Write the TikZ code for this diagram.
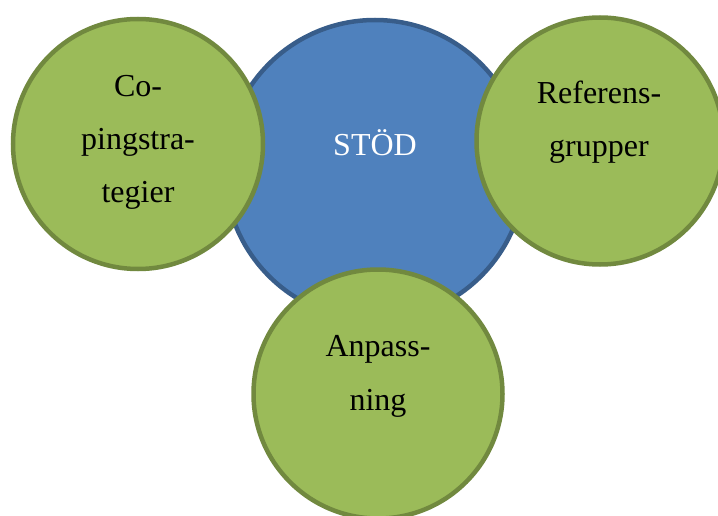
\documentclass[tikz,border=0pt]{standalone}
\usepackage{fontspec}
\setmainfont{Liberation Serif}
\usepackage{tikz}
\usetikzlibrary{positioning}
\definecolor{bleu}{HTML}{4F81BD}
\definecolor{bleubord}{HTML}{385D8A}
\definecolor{vert}{HTML}{9BBB59}
\definecolor{vertbord}{HTML}{71893F}

\begin{document}
\begin{tikzpicture}[x=1pt,y=-1pt,
  rond/.style={circle,line width=4.5pt,inner sep=0pt},
  texte/.style={align=center,font=\fontsize{32}{53.5}\selectfont,anchor=base}]
\useasboundingbox (0,0) rectangle (718,516);
\node [rond,fill=bleu,draw=bleubord,minimum size=300pt] (stod) at (375,170) {};
\node [rond,fill=vert,draw=vertbord,minimum size=250pt] (coping) at (138,144) {};
\node [rond,fill=vert,draw=vertbord,minimum size=247pt] (referens) at (600,141) {};
\node [rond,fill=vert,draw=vertbord,minimum size=249pt] (anpassning) at (378,394) {};
% texte: ancre base = derniere ligne
\node [texte,text=white] (tstod) at (375,156) {STÖD};
\node [texte] (tcoping) at (138,203) {Co-\\pingstra-\\tegier};
\node [texte] (treferens) at (599,157) {Referens-\\grupper};
\node [texte] (tanpassning) at (378,410) {Anpass-\\ning};
\end{tikzpicture}
\end{document}
